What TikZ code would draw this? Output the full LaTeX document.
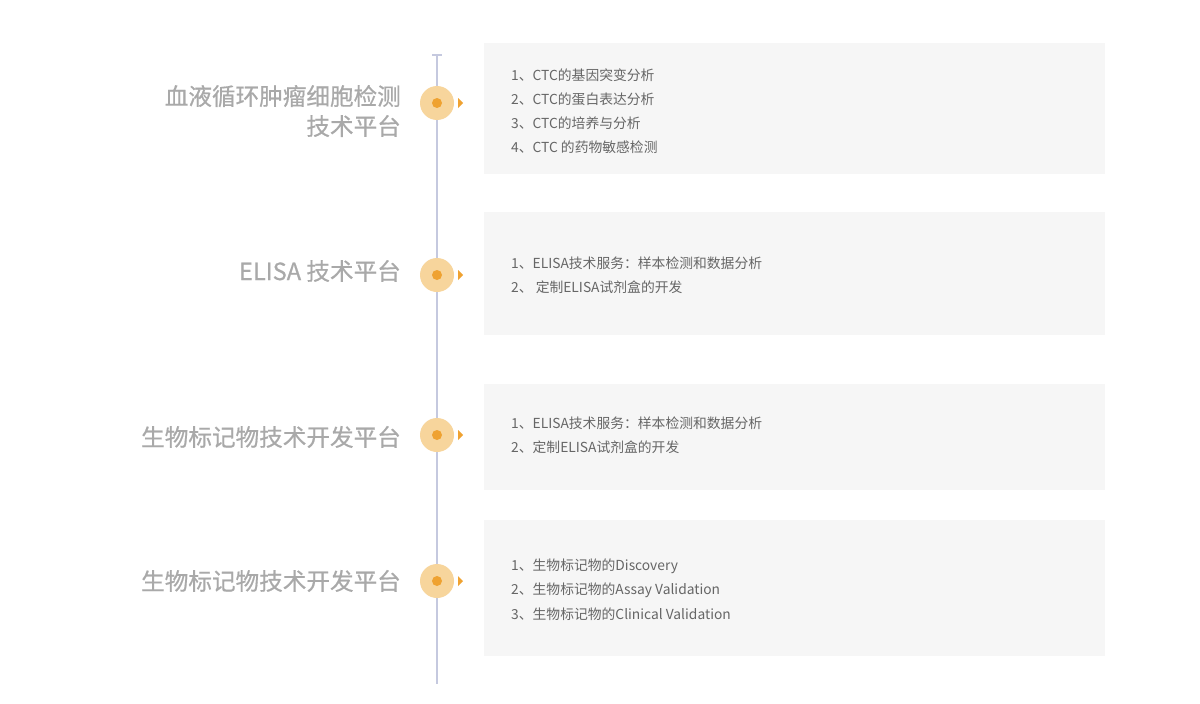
\documentclass[tikz,border=0pt]{standalone}
\usepackage{fontspec}
\setmainfont{Noto Sans CJK SC}
\newfontfamily\cjk{Noto Sans CJK SC}
\newfontfamily\cjkb[FakeBold=0.6]{Noto Sans CJK SC}
\definecolor{linec}{HTML}{C5C9DF}
\definecolor{ringc}{HTML}{F7D59C}
\definecolor{dotc}{HTML}{EFA231}
\definecolor{boxc}{HTML}{F6F6F6}
\definecolor{labc}{HTML}{A9A9A9}
\definecolor{itemc}{HTML}{666666}
\tikzset{
  ring/.style={circle,fill=ringc,minimum size=34pt,inner sep=0pt},
  dot/.style={circle,fill=dotc,minimum size=10pt,inner sep=0pt},
  panel/.style={fill=boxc,draw=none},
  lab/.style={anchor=east,text=labc,font=\cjkb\fontsize{23.6}{30}\selectfont,align=right,inner sep=0pt},
  item/.style={anchor=west,text=itemc,font=\cjk\fontsize{13.8}{16}\selectfont,inner sep=0pt},
}
\begin{document}
\begin{tikzpicture}[x=1pt,y=-1pt]
\useasboundingbox[fill=white] (0,0) rectangle (1200,704);
% timeline
\coordinate (ltop) at (437,55);
\coordinate (lbot) at (437,684);
\draw[linec,line width=2pt] (ltop) -- (lbot);
\draw[linec,line width=1.5pt] (432,55) -- (442,55);
% panels
\fill[boxc] (484,43) rectangle (1105,174);
\fill[boxc] (484,212) rectangle (1105,335);
\fill[boxc] (484,384) rectangle (1105,490);
\fill[boxc] (484,520) rectangle (1105,656);
% markers
\foreach \y/\n in {103/a,275/b,435/c,581/d}{
  \node[ring] (r\n) at (437,\y) {};
  \node[dot] (d\n) at (437,\y) {};
  \fill[dotc] (458,\y-5) -- (463,\y) -- (458,\y+5) -- cycle;
}
% labels
\node[lab] (l1) at (401,111) {血液循环肿瘤细胞检测\\技术平台};
\node[lab] (l2) at (401,271) {ELISA 技术平台};
\node[lab] (l3) at (401,437) {生物标记物技术开发平台};
\node[lab] (l4) at (401,581) {生物标记物技术开发平台};
% items
\node[item] (i11) at (511,75) {1、CTC的基因突变分析};
\node[item] (i12) at (511,99) {2、CTC的蛋白表达分析};
\node[item] (i13) at (511,123) {3、CTC的培养与分析};
\node[item] (i14) at (511,147) {4、CTC 的药物敏感检测};
\node[item] (i21) at (511,263) {1、ELISA技术服务：样本检测和数据分析};
\node[item] (i22) at (511,287) {2、 定制ELISA试剂盒的开发};
\node[item] (i31) at (511,423) {1、ELISA技术服务：样本检测和数据分析};
\node[item] (i32) at (511,447) {2、定制ELISA试剂盒的开发};
\node[item] (i41) at (511,566) {1、生物标记物的Discovery};
\node[item] (i42) at (511,590) {2、生物标记物的Assay Validation};
\node[item] (i43) at (511,614) {3、生物标记物的Clinical Validation};
\end{tikzpicture}
\end{document}
